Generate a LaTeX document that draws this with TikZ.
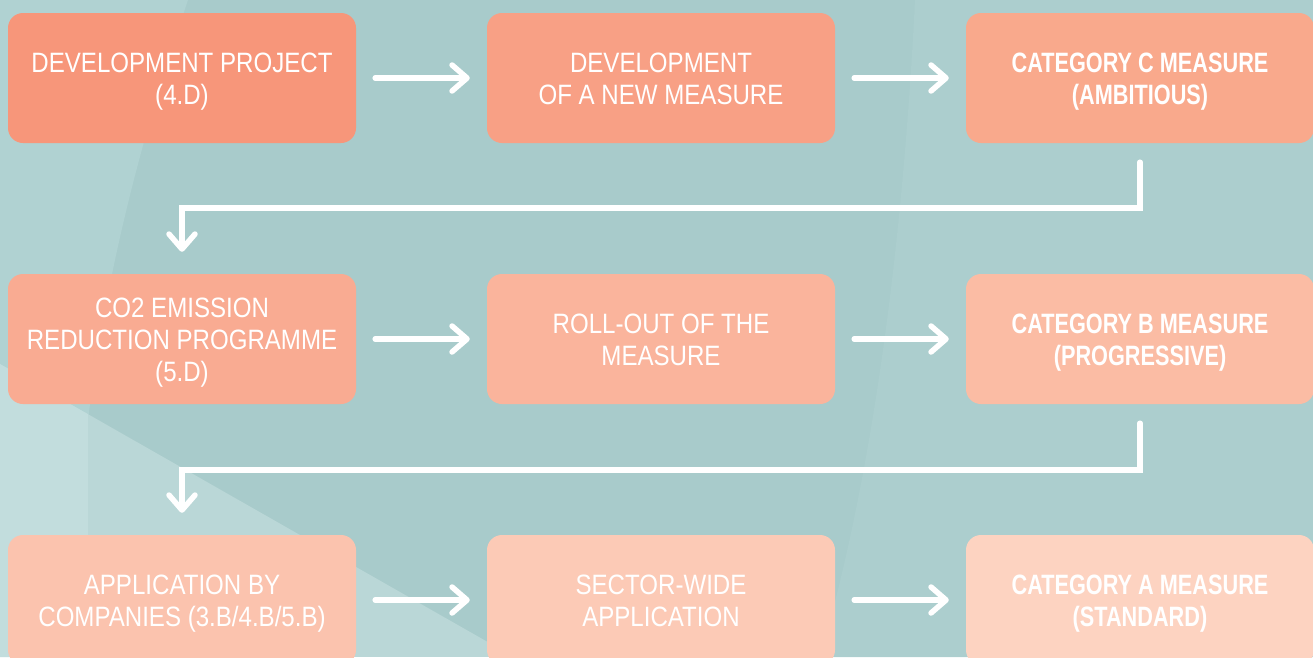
\documentclass[tikz,border=0pt]{standalone}
\usepackage{fontspec}
\setmainfont[FakeStretch=0.86]{Liberation Sans}
\newfontfamily\catfont[FakeStretch=0.775]{Liberation Sans}
\usetikzlibrary{arrows.meta}
\definecolor{bgbase}{HTML}{A8CBCB}
\definecolor{bglight}{HTML}{B0D2D2}
\definecolor{bglightb}{HTML}{BAD7D7}
\definecolor{bglightc}{HTML}{C2DDDD}
\definecolor{bgright}{HTML}{ACCECE}
\definecolor{ba}{HTML}{F7967A}
\definecolor{bb}{HTML}{F8A085}
\definecolor{bc}{HTML}{F9A98C}
\definecolor{bd}{HTML}{F9AB92}
\definecolor{be}{HTML}{FAB49C}
\definecolor{bf}{HTML}{FBBCA4}
\definecolor{bg}{HTML}{FBC3AE}
\definecolor{bh}{HTML}{FCCAB6}
\definecolor{bi}{HTML}{FDD3C1}
\newcommand\boxtext[1]{\raisebox{-4pt}[\height][\depth]{\begin{tabular}{@{}c@{}}#1\end{tabular}}}
\tikzset{
  stepbox/.style={rounded corners=15pt, minimum width=348pt, minimum height=130pt,
    inner sep=0pt, text=white,
    font=\fontsize{28}{32}\selectfont},
  catbox/.style={stepbox, font=\fontsize{28}{32}\selectfont\catfont\bfseries},
  flow/.style={draw=white, line width=5.5pt, line cap=round,
    -{Straight Barb[length=15pt,width=26pt,round]}},
  hflow/.style={flow, shorten <=19pt, shorten >=17pt},
}
\begin{document}
\begin{tikzpicture}[x=1pt,y=-1pt]
\useasboundingbox (0,0) rectangle (1313,657);
% background
\fill[bgbase] (0,0) rectangle (1313,657);
\fill[bgright] (915,0) .. controls (905,200) and (880,450) .. (820,657) -- (1313,657) -- (1313,0) -- cycle;
\fill[bglight] (0,0) -- (188,0) .. controls (140,140) and (105,280) .. (88,420) -- (88,657) -- (0,657) -- cycle;
\begin{scope}
\clip (0,364) -- (514,657) -- (0,657) -- cycle;
\fill[bglightb] (0,0) rectangle (1313,657);
\fill[bglightc] (0,0) rectangle (88,657);
\end{scope}
% boxes
\node[stepbox, fill=ba] (p1) at (182,78) {\boxtext{DEVELOPMENT PROJECT\\(4.D)}};
\node[stepbox, fill=bb] (p2) at (661,78) {\boxtext{DEVELOPMENT\\OF A NEW MEASURE}};
\node[catbox, fill=bc] (p3) at (1140,78) {\boxtext{CATEGORY C MEASURE\\(AMBITIOUS)}};
\node[stepbox, fill=bd] (q1) at (182,339) {\boxtext{CO2 EMISSION\\REDUCTION PROGRAMME\\(5.D)}};
\node[stepbox, fill=be] (q2) at (661,339) {\boxtext{ROLL-OUT OF THE\\MEASURE}};
\node[catbox, fill=bf] (q3) at (1140,339) {\boxtext{CATEGORY B MEASURE\\(PROGRESSIVE)}};
\node[stepbox, fill=bg] (r1) at (182,600) {\boxtext{APPLICATION BY\\COMPANIES (3.B/4.B/5.B)}};
\node[stepbox, fill=bh] (r2) at (661,600) {\boxtext{SECTOR-WIDE\\APPLICATION}};
\node[catbox, fill=bi] (r3) at (1140,600) {\boxtext{CATEGORY A MEASURE\\(STANDARD)}};
% connectors
\draw[hflow] (p1) -- (p2);
\draw[hflow] (p2) -- (p3);
\draw[hflow] (q1) -- (q2);
\draw[hflow] (q2) -- (q3);
\draw[hflow] (r1) -- (r2);
\draw[hflow] (r2) -- (r3);
\draw[flow, line join=miter, shorten <=19pt, shorten >=22pt] (p3.south) -- ++(0,65) -| (q1.north);
\draw[flow, line join=miter, shorten <=19pt, shorten >=22pt] (q3.south) -- ++(0,66) -| (r1.north);
\end{tikzpicture}
\end{document}
